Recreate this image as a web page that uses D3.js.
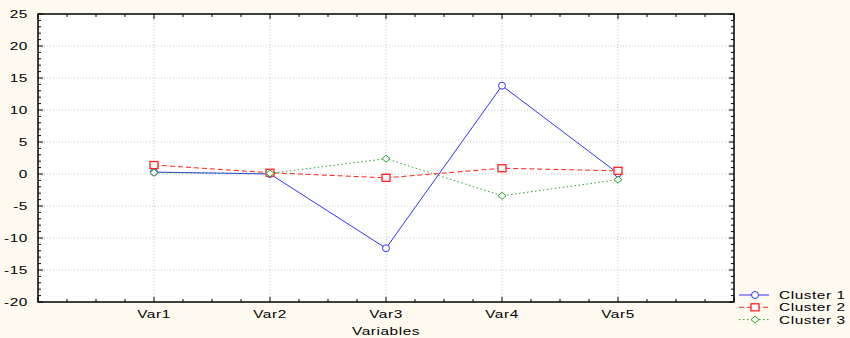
<!DOCTYPE html>
<html>
<head>
<meta charset="utf-8">
<script src="https://cdn.jsdelivr.net/npm/d3@7"></script>
<style>
  body { margin: 0; background: #fffaf0; }
  svg { display: block; font-family: "Liberation Sans", Arial, sans-serif; }
</style>
</head>
<body>
<div id="chart"></div>
<script>
// values
const variables = ['Var1', 'Var2', 'Var3', 'Var4', 'Var5'];
const cluster1 = [0.3, 0.0, -11.6, 13.8, 0.1];
const cluster2 = [1.4, 0.2, -0.6, 0.9, 0.5];
const cluster3 = [0.2, 0.1, 2.4, -3.4, -0.9];
const yTicks = [25, 20, 15, 10, 5, 0, -5, -10, -15, -20];

const series = [
  { name: 'Cluster 1', values: cluster1, color: '#3333ff', dash: null, marker: 'circle' },
  { name: 'Cluster 2', values: cluster2, color: '#ff2020', dash: '5,3', marker: 'square' },
  { name: 'Cluster 3', values: cluster3, color: '#2ca02c', dash: '1.5,2.5', marker: 'diamond' }
];

const W = 850, H = 338;
const m = { left: 38, right: 116, top: 14, bottom: 36 };
const pw = W - m.left - m.right, ph = H - m.top - m.bottom;
const SX = 1.4; // the reference font is drawn wide

const svg = d3.select('#chart').append('svg').attr('width', W).attr('height', H);
svg.append('rect').attr('width', W).attr('height', H).attr('fill', '#fffaf0');

const x = d3.scaleLinear().domain([0, variables.length + 1]).range([m.left, m.left + pw]);
const y = d3.scaleLinear().domain([-20, 25]).range([m.top + ph, m.top]);

svg.append('rect')
  .attr('x', m.left).attr('y', m.top).attr('width', pw).attr('height', ph)
  .attr('fill', '#fff');

// grid
const grid = svg.append('g').attr('stroke', '#c8c8c8').attr('stroke-dasharray', '1,2');
grid.selectAll('line.h').data(yTicks.filter(d => d !== 25 && d !== -20)).enter().append('line')
  .attr('x1', m.left).attr('x2', m.left + pw)
  .attr('y1', d => y(d)).attr('y2', d => y(d));
grid.selectAll('line.v').data(variables).enter().append('line')
  .attr('x1', (d, i) => x(i + 1)).attr('x2', (d, i) => x(i + 1))
  .attr('y1', m.top).attr('y2', m.top + ph);

// frame ticks, inward, on all four sides
const minorY = d3.range(-20, 26, 1);
const minorX = d3.range(0, (variables.length + 1) * 4 + 1).map(d => d / 4);
const ticks = svg.append('g').attr('stroke', '#000').attr('stroke-width', 1);
minorY.forEach(v => {
  const len = v % 5 === 0 ? 5 : 3;
  ticks.append('line').attr('x1', m.left).attr('x2', m.left + len).attr('y1', y(v)).attr('y2', y(v));
  ticks.append('line').attr('x1', m.left + pw).attr('x2', m.left + pw - len).attr('y1', y(v)).attr('y2', y(v));
});
minorX.forEach(v => {
  const len = Number.isInteger(v) ? 5 : 3;
  ticks.append('line').attr('y1', m.top + ph).attr('y2', m.top + ph - len).attr('x1', x(v)).attr('x2', x(v));
  ticks.append('line').attr('y1', m.top).attr('y2', m.top + len).attr('x1', x(v)).attr('x2', x(v));
});

svg.append('rect')
  .attr('x', m.left).attr('y', m.top).attr('width', pw).attr('height', ph)
  .attr('fill', 'none').attr('stroke', '#000').attr('stroke-width', 1.5);

// wide text helper
function label(g, tx, ty, str, anchor) {
  return g.append('text')
    .attr('transform', `translate(${tx},${ty}) scale(${SX},1)`)
    .attr('text-anchor', anchor || 'start')
    .attr('font-size', 11).attr('letter-spacing', 0.4).attr('fill', '#000')
    .text(str);
}

const yl = svg.append('g');
yTicks.forEach(d => label(yl, m.left - 10, y(d) + 4, d, 'end'));
const xl = svg.append('g');
variables.forEach((d, i) => label(xl, x(i + 1), m.top + ph + 16, d, 'middle'));
label(svg, x(3), H - 3, 'Variables', 'middle');

function drawMarker(g, type, cx, cy, color) {
  if (type === 'circle') {
    g.append('circle').attr('cx', cx).attr('cy', cy).attr('r', 3.5)
      .attr('fill', '#fff').attr('stroke', color);
  } else if (type === 'square') {
    g.append('rect').attr('x', cx - 4).attr('y', cy - 3.5).attr('width', 8).attr('height', 7)
      .attr('fill', '#fff').attr('stroke', color).attr('stroke-width', 1.3);
  } else {
    g.append('path').attr('d', `M${cx},${cy - 3.5}L${cx + 4},${cy}L${cx},${cy + 3.5}L${cx - 4},${cy}Z`)
      .attr('fill', '#fff').attr('stroke', color);
  }
}

const line = d3.line().x((d, i) => x(i + 1)).y(d => y(d));
series.forEach(s => {
  const g = svg.append('g');
  g.append('path').datum(s.values).attr('d', line)
    .attr('fill', 'none').attr('stroke', s.color).attr('stroke-width', 1)
    .attr('stroke-dasharray', s.dash);
  s.values.forEach((v, i) => drawMarker(g, s.marker, x(i + 1), y(v), s.color));
});

// legend
const legend = svg.append('g');
series.forEach((s, i) => {
  const ly = 295 + i * 12.3;
  const g = legend.append('g');
  g.append('line').attr('x1', 739).attr('x2', 769).attr('y1', ly).attr('y2', ly)
    .attr('stroke', s.color).attr('stroke-dasharray', s.dash);
  drawMarker(g, s.marker, 755, ly, s.color);
  label(g, 779, ly + 4, s.name);
});
</script>
</body>
</html>
